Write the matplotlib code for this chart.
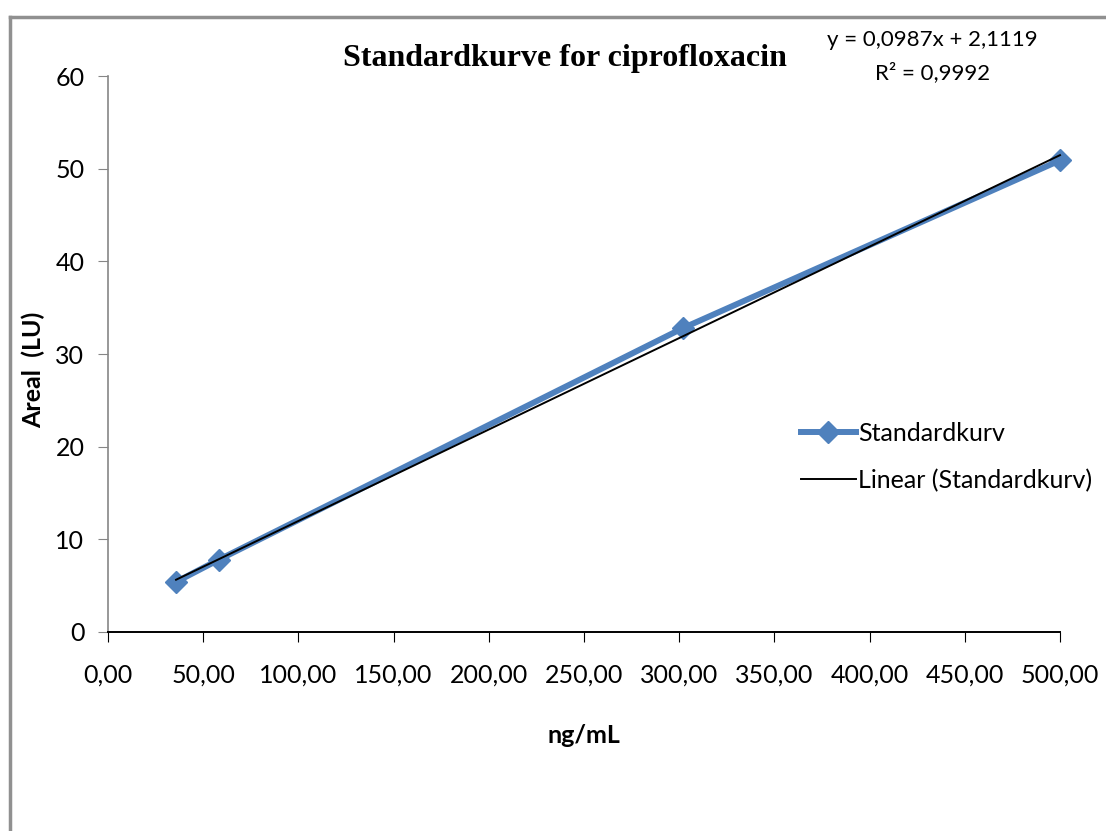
import matplotlib.pyplot as plt
from matplotlib.lines import Line2D
import numpy as np

# data
konsentrasjon = [35.7, 58.2, 302.0, 500.0]   # ng/mL
areal = [5.4, 7.8, 32.8, 50.9]               # LU
stigning = 0.0987
konstant = 2.1119
r2 = 0.9992

xticks = [0, 50, 100, 150, 200, 250, 300, 350, 400, 450, 500]
yticks = [0, 10, 20, 30, 40, 50, 60]

plt.rcParams['font.family'] = ['Lato', 'DejaVu Sans']

fig = plt.figure(figsize=(11.06, 8.31), dpi=100)
ax = fig.add_axes([0.0977, 0.2395, 0.8607, 0.669])

blue = '#4F81BD'
ax.plot(konsentrasjon, areal, color=blue, lw=4.3, marker='D', markersize=11,
        label='Standardkurv', zorder=3, clip_on=False)
xs = np.array([min(konsentrasjon), max(konsentrasjon)])
ax.plot(xs, stigning * xs + konstant, color='black', lw=1.4,
        label='Linear (Standardkurv)', zorder=4, clip_on=False)

ax.set_xlim(0, 500)
ax.set_ylim(0, 60)
ax.set_xticks(xticks)
ax.set_xticklabels([f'{v:.2f}'.replace('.', ',') for v in xticks])
ax.set_yticks(yticks)
ax.tick_params(axis='both', labelsize=18, direction='out', length=7)
ax.tick_params(axis='x', pad=16, color='black')
ax.tick_params(axis='y', pad=10, color='#868686')

for side in ['top', 'right']:
    ax.spines[side].set_visible(False)
ax.spines['left'].set_color('#868686')
ax.spines['left'].set_linewidth(1.2)
ax.spines['bottom'].set_color('black')
ax.spines['bottom'].set_linewidth(1.4)

ax.set_xlabel('ng/mL', fontsize=18, fontweight='bold')
ax.set_ylabel('Areal  (LU)', fontsize=18, fontweight='bold')
ax.xaxis.set_label_coords(0.5, -0.165)
ax.yaxis.set_label_coords(-0.066, 0.471)

fig.text(0.511, 0.930, 'Standardkurve for ciprofloxacin', family='Liberation Serif',
         fontsize=23, fontweight='bold', ha='center', va='center')
fig.text(0.843, 0.952, f'y = {stigning:.4f}x + {konstant:.4f}'.replace('.', ','),
         fontsize=16, ha='center', va='center')
fig.text(0.843, 0.913, f'R² = {r2:.4f}'.replace('.', ','),
         fontsize=16, ha='center', va='center')

leg = ax.legend(loc='upper left', bbox_to_anchor=(0.704, 0.418), frameon=False,
                fontsize=18, handlelength=2.2, handletextpad=0.1, labelspacing=0.95)

# grey chart frame (left and top edge visible)
fig.add_artist(Line2D([10 / 1106, 10 / 1106], [0, 1 - 17 / 831], color='#909090', lw=2.5))
fig.add_artist(Line2D([10 / 1106, 1], [1 - 17 / 831, 1 - 17 / 831], color='#909090', lw=2.5))

fig.savefig('out.png', dpi=100)
